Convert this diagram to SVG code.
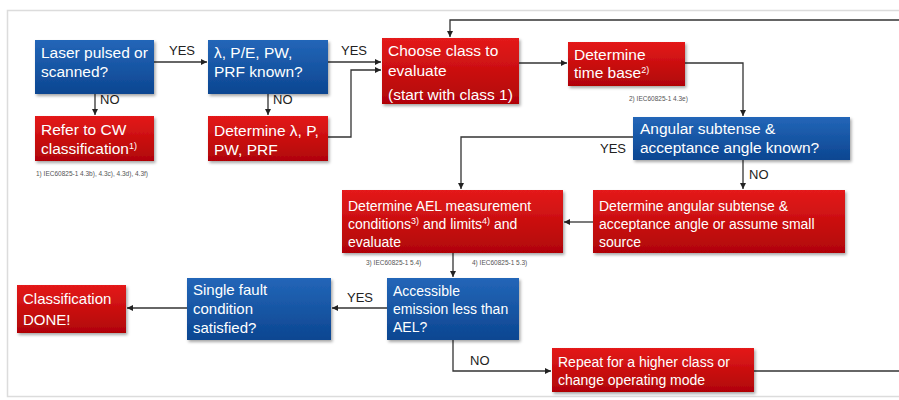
<svg xmlns="http://www.w3.org/2000/svg" width="899" height="400" viewBox="0 0 899 400">
<defs>
<linearGradient id="gBlue" x1="0" y1="0" x2="0" y2="1">
<stop offset="0" stop-color="#2366b8"/>
<stop offset="1" stop-color="#0c4691"/>
</linearGradient>
<linearGradient id="gRed" x1="0" y1="0" x2="0" y2="1">
<stop offset="0" stop-color="#e41a1a"/>
<stop offset="1" stop-color="#b00406"/>
</linearGradient>
<filter id="sh" x="-10%" y="-10%" width="125%" height="135%">
<feDropShadow dx="1.5" dy="2" stdDeviation="1.5" flood-color="#000" flood-opacity="0.35"/>
</filter>
<marker id="arr" markerWidth="8" markerHeight="8" refX="6" refY="3" orient="auto" markerUnits="userSpaceOnUse">
<path d="M0,0 L6,3 L0,6 z" fill="#222"/>
</marker>
</defs>
<style>
.blue{fill:url(#gBlue);filter:url(#sh);}
.red{fill:url(#gRed);filter:url(#sh);}
.t{font-family:"Liberation Sans",Arial,sans-serif;font-size:15.5px;fill:#fff;}
.m{font-size:15px;}
.s{font-size:14px;}
.sup{font-size:9px;}
.lbl{font-family:"Liberation Sans",Arial,sans-serif;font-size:13px;fill:#222;}
.fn{font-family:"Liberation Sans",Arial,sans-serif;font-size:6.5px;fill:#555;}
.c{fill:none;stroke:#333;stroke-width:1.3;}
.ca{fill:none;stroke:#333;stroke-width:1.3;marker-end:url(#arr);}
</style>
<rect x="0" y="0" width="899" height="400" fill="#fff"/>
<rect x="7.5" y="10.5" width="900" height="386" fill="none" stroke="#dcdcdc" stroke-width="1.5"/>

<g id="connectors">
<path class="ca" d="M154,62 H207"/>
<path class="ca" d="M95,94 V115"/>
<path class="ca" d="M268,94 V115"/>
<path class="ca" d="M328,62 H381"/>
<path class="ca" d="M328,137 H351 V70 H381"/>
<path class="ca" d="M519,63 H567"/>
<path class="ca" d="M685,63 H743 V116"/>
<path class="ca" d="M633,137 H461 V189"/>
<path class="ca" d="M743,160 V189"/>
<path class="ca" d="M593,222 H564"/>
<path class="ca" d="M453,253 V277"/>
<path class="ca" d="M387,308 H332"/>
<path class="ca" d="M187,308 H127"/>
<path class="ca" d="M453,340 V371 H551"/>
<path class="c" d="M754,371 H899"/>
<path class="ca" d="M899,20 H450 V37"/>
<text class="lbl" x="169" y="55">YES</text>
<text class="lbl" x="341" y="55">YES</text>
<text class="lbl" x="100" y="104">NO</text>
<text class="lbl" x="273" y="104">NO</text>
<text class="lbl" x="600" y="153">YES</text>
<text class="lbl" x="749" y="179">NO</text>
<text class="lbl" x="347" y="302">YES</text>
<text class="lbl" x="470" y="365">NO</text>
</g>

<g id="n_laser">
<rect class="blue" x="35" y="40" width="119" height="54"/>
<text class="t" x="41" y="58">Laser pulsed or</text>
<text class="t" x="41" y="77">scanned?</text>
</g>
<g id="n_known">
<rect class="blue" x="208" y="40" width="120" height="54"/>
<text class="t" x="214" y="58">λ, P/E, PW,</text>
<text class="t" x="214" y="77">PRF known?</text>
</g>
<g id="n_cw">
<rect class="red" x="35" y="116" width="119" height="45"/>
<text class="t" x="41" y="135">Refer to CW</text>
<text class="t" x="41" y="154">classification<tspan class="sup" dy="-5">1)</tspan></text>
<text class="fn" x="36" y="176">1) IEC60825-1 4.3b), 4.3c), 4.3d), 4.3f)</text>
</g>
<g id="n_determine_params">
<rect class="red" x="208" y="116" width="120" height="45"/>
<text class="t" x="214" y="136">Determine λ, P,</text>
<text class="t" x="214" y="155">PW, PRF</text>
</g>
<g id="n_choose">
<rect class="red" x="382" y="38" width="137" height="66"/>
<text class="t" x="388" y="56">Choose class to</text>
<text class="t" x="388" y="76">evaluate</text>
<text class="t" x="388" y="100">(start with class 1)</text>
</g>
<g id="n_timebase">
<rect class="red" x="568" y="42" width="117" height="44"/>
<text class="t" x="574" y="60">Determine</text>
<text class="t" x="574" y="78">time base<tspan class="sup" dy="-5">2)</tspan></text>
<text class="fn" x="629" y="101">2) IEC60825-1 4.3e)</text>
</g>
<g id="n_angular_known">
<rect class="blue" x="633" y="117" width="217" height="43"/>
<text class="t" x="640" y="134">Angular subtense &amp;</text>
<text class="t" x="640" y="153">acceptance angle known?</text>
</g>
<g id="n_ael">
<rect class="red" x="342" y="190" width="221" height="63"/>
<text class="t s" x="348" y="211">Determine AEL measurement</text>
<text class="t s" x="348" y="229">conditions<tspan class="sup" dy="-5">3)</tspan><tspan dy="5"> and limits</tspan><tspan class="sup" dy="-5">4)</tspan><tspan dy="5"> and</tspan></text>
<text class="t s" x="348" y="247">evaluate</text>
<text class="fn" x="366" y="265">3) IEC60825-1 5.4)</text>
<text class="fn" x="472" y="265">4) IEC60825-1 5.3)</text>
</g>
<g id="n_determine_angular">
<rect class="red" x="593" y="190" width="252" height="63"/>
<text class="t s" x="599" y="211">Determine angular subtense &amp;</text>
<text class="t s" x="599" y="229">acceptance angle or assume small</text>
<text class="t s" x="599" y="247">source</text>
</g>
<g id="n_accessible">
<rect class="blue" x="387" y="278" width="132" height="62"/>
<text class="t s" x="393" y="296">Accessible</text>
<text class="t s" x="393" y="314">emission less than</text>
<text class="t s" x="393" y="332">AEL?</text>
</g>
<g id="n_repeat">
<rect class="red" x="552" y="348" width="202" height="44"/>
<text class="t s" x="558" y="367">Repeat for a higher class or</text>
<text class="t s" x="558" y="385">change operating mode</text>
</g>
<g id="n_single_fault">
<rect class="blue" x="187" y="278" width="144" height="62"/>
<text class="t m" x="193" y="295">Single fault</text>
<text class="t m" x="193" y="314">condition</text>
<text class="t m" x="193" y="333">satisfied?</text>
</g>
<g id="n_done">
<rect class="red" x="17" y="285" width="109" height="48"/>
<text class="t m" x="23" y="304">Classification</text>
<text class="t m" x="23" y="325">DONE!</text>
</g>
</svg>
